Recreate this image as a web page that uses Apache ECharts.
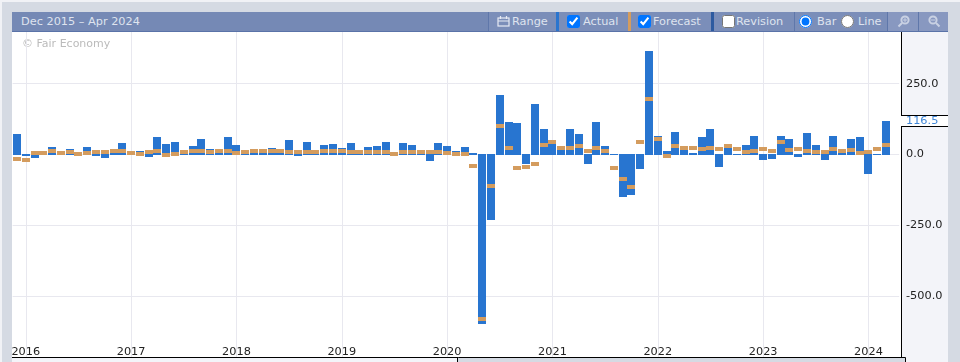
<!DOCTYPE html>
<html>
<head>
<meta charset="utf-8">
<title>Dec 2015 - Apr 2024</title>
<script src="https://cdn.jsdelivr.net/npm/echarts@6/dist/echarts.min.js"></script>
<style>
  html, body { margin: 0; padding: 0; width: 960px; height: 362px; overflow: hidden; background: #d5dae3; }
  body { position: relative; font-family: "DejaVu Sans", sans-serif; }
  .abs { position: absolute; }
  #edgeTop { left: 0; top: 0; width: 960px; height: 2px; background: #f1f2f6; }
  #edgeLeft { left: 0; top: 0; width: 2px; height: 362px; background: #f1f2f6; }
  #stage { left: 12px; top: 32px; width: 936px; height: 330px; background: #f3f4f9; }
  #plotBg { left: 12px; top: 32px; width: 889px; height: 325px; background: #fff; }
  #chart { left: 0; top: 0; width: 960px; height: 362px; }
  #stripLeft { left: 12px; top: 358px; width: 445px; height: 4px; background: #f3f4f9; border-right: 1px solid #000; }
  #stripMid { left: 458px; top: 358px; width: 447px; height: 4px; background: #d5dae3; }
  #stripRight { left: 906px; top: 358px; width: 42px; height: 4px; background: #f3f4f9; }
  #header { left: 12px; top: 12px; width: 936px; height: 19px; background: #7589b5; border-bottom: 1px solid #5a73a8; color: #dfe4ef; font-size: 11.3px; line-height: 19px; }
  .seg { position: absolute; top: 0; height: 19px; background: #7b8eb9; border-left: 1px solid #5f77aa; box-sizing: border-box; white-space: nowrap; }
  .seg input { position: absolute; margin: 0; top: 3px; width: 13px; height: 13px; accent-color: #0075ff; }
  .seg span { position: absolute; top: 0; }
  .strip { position: absolute; top: 0; width: 3px; height: 19px; }
  .seg svg { position: absolute; }
</style>
</head>
<body>
<div class="abs" id="edgeTop"></div>
<div class="abs" id="edgeLeft"></div>
<div class="abs" id="stage"></div>
<div class="abs" id="plotBg"></div>
<div class="abs" id="chart"></div>
<div class="abs" id="stripLeft"></div>
<div class="abs" id="stripMid"></div>
<div class="abs" id="stripRight"></div>
<div class="abs" id="header">
  <span class="abs" style="left:9px">Dec 2015 – Apr 2024</span>
  <div class="seg" style="left:476px;width:68px">
    <svg style="left:8px;top:3px" width="13" height="12" viewBox="0 0 13 12" fill="none" stroke="#e6eaf3" stroke-width="1.2"><rect x="1" y="3" width="11" height="8"/><path d="M1 6h11M3.5 1v3M9.5 1v3"/></svg>
    <span style="left:23px">Range</span>
  </div>
  <div class="strip" style="left:544px;background:#2a75cf"></div>
  <div class="seg" style="left:547px;width:69px;border-left:0">
    <input type="checkbox" checked style="left:8px"><span style="left:24px">Actual</span>
  </div>
  <div class="strip" style="left:616px;background:#d49c5e"></div>
  <div class="seg" style="left:619px;width:80px;border-left:0">
    <input type="checkbox" checked style="left:7px"><span style="left:22px">Forecast</span>
  </div>
  <div class="strip" style="left:699px;background:#2d5aa0"></div>
  <div class="seg" style="left:702px;width:80px;border-left:0">
    <input type="checkbox" style="left:8px"><span style="left:22px">Revision</span>
  </div>
  <div class="seg" style="left:782px;width:93px">
    <input type="radio" name="kind" checked style="left:4px"><span style="left:22px">Bar</span>
    <input type="radio" name="kind" style="left:46px"><span style="left:63px">Line</span>
  </div>
  <div class="seg" style="left:875px;width:31px;background:#8898c0">
    <svg style="left:9px;top:3px" width="13" height="13" viewBox="0 0 13 13" fill="none" stroke="#c9d1e3" stroke-width="2"><circle cx="8" cy="5" r="3.6"/><path d="M5 8l-3.5 3.5"/><path stroke-width="1" d="M6 5h4M8 3v4"/></svg>
  </div>
  <div class="seg" style="left:906px;width:30px;background:#8898c0">
    <svg style="left:9px;top:3px" width="13" height="13" viewBox="0 0 13 13" fill="none" stroke="#c9d1e3" stroke-width="2"><circle cx="5" cy="5" r="3.6"/><path d="M8 8l3.5 3.5"/><path stroke-width="1" d="M3 5h4"/></svg>
  </div>
</div>
<script>
const months = ['Jan', 'Feb', 'Mar', 'Apr', 'May', 'Jun', 'Jul', 'Aug', 'Sep', 'Oct', 'Nov', 'Dec']
const categories = ['Dec 2015']
for (let year = 2016; year <= 2024; year++) {
  for (const m of months) {
    if (year === 2024 && months.indexOf(m) > 3) break
    categories.push(m + ' ' + year)
  }
}

const actual = [
  72, -5, -12, 3, 26, 3, 19, 0, 26, -5, -12, 8,
  40, 3, 12, -9, 62, 37, 44, 2, 30, 55, 19, 7,
  62, 33, 3, 7, 7, 23, 7, 51, -5, 44, 3, 33,
  37, 23, 40, 3, 26, 30, 44, -2, 40, 33, 3, -23,
  40, 30, 12, 26, 5, -597, -231, 210, 114, 111, -33, 178,
  90, 37, 16, 90, 72, -33, 114, 30, -3, -150, -143, -51,
  365, 65, 12, 79, 16, 5, 62, 90, -44, 23, 2, 33,
  65, -19, -16, 65, 55, -9, 76, 33, -19, 65, 5, 55,
  62, -69, 2, 116.5, null
]
const forecast = [
  -16, -19, 5, 5, 12, 5, 9, 2, 5, 9, 9, 12,
  12, 5, 2, 9, 12, -2, 2, 9, 12, 12, 9, 12,
  12, 5, 9, 12, 12, 12, 12, 9, 9, 9, 9, 12,
  12, 12, 9, 9, 9, 9, 9, 2, 9, 9, 9, 9,
  9, 5, 2, 2, -40, -579, -110, 100, 23, -47, -44, -33,
  33, 44, 23, 23, 30, 12, 23, 12, -47, -86, -114, 44,
  195, 55, -5, 30, 23, 23, 19, 23, 19, 30, 19, 9,
  12, 19, 12, 44, 16, 19, 12, 9, 9, 19, 12, 16,
  5, 9, 19, 33, null
]
const yTicks = [-500, -250, 0, 250]
const latestValue = 116.5

const isYearStart = (index, value) => value.startsWith('Jan')

// bars and forecast blocks are pixel snapped, plain bar series blurs at this band width
const renderActual = (params, api) => {
  const value = api.value(1)
  if (value === null || isNaN(value)) return
  const end = api.coord([api.value(0), value])
  const zero = api.coord([api.value(0), 0])
  const base = value >= 0 ? Math.ceil(zero[1]) : Math.floor(zero[1])
  const tip = Math.round(end[1])
  return {
    type: 'rect',
    shape: { x: Math.round(end[0] - 4), y: Math.min(tip, base), width: 8, height: Math.abs(tip - base) },
    style: { fill: '#2875d0' },
  }
}
const renderForecast = (params, api) => {
  const value = api.value(1)
  if (value === null || isNaN(value)) return
  const point = api.coord([api.value(0), value])
  return {
    type: 'rect',
    shape: { x: Math.round(point[0] - 4), y: Math.round(point[1] - 2), width: 8, height: 4 },
    style: { fill: '#d49c5e' },
  }
}

const chart = echarts.init(document.getElementById('chart'))
const watermark = {
  type: 'text',
  left: 22,
  top: 39,
  style: { text: '© Fair Economy', fill: '#bbbbbb', font: '11px "DejaVu Sans"' },
}
chart.setOption({
  animation: false,
  grid: { left: 12.6, width: 886.6, top: 32, height: 325 },
  xAxis: {
    type: 'category',
    data: categories,
    axisLine: { show: false },
    axisTick: { show: false },
    axisLabel: {
      inside: true,
      interval: isYearStart,
      margin: -1,
      color: '#222',
      fontFamily: 'DejaVu Sans',
      fontSize: 11.3,
      formatter: value => value.slice(-4),
    },
    splitLine: {
      show: true,
      interval: isYearStart,
      alignWithLabel: true,
      lineStyle: { color: '#e8e8ef', width: 1 },
    },
  },
  yAxis: {
    type: 'value',
    position: 'right',
    offset: 1.8,
    min: -713,
    max: 431.7,
    axisLine: { show: true, lineStyle: { color: '#000', width: 1 } },
    axisTick: { show: false, customValues: yTicks },
    axisLabel: {
      customValues: yTicks,
      margin: 5,
      padding: [3, 0, 0, 0],
      color: '#222',
      fontFamily: 'DejaVu Sans',
      fontSize: 11.3,
      formatter: value => value.toFixed(1),
    },
    splitLine: { show: true, customValues: yTicks, lineStyle: { color: '#e8e8ef', width: 1 } },
  },
  series: [
    {
      name: 'Actual',
      type: 'custom',
      data: actual.map((value, index) => [index, value]),
      encode: { x: 0, y: 1 },
      renderItem: renderActual,
      z: 3,
    },
    {
      name: 'Forecast',
      type: 'custom',
      data: forecast.map((value, index) => [index, value]),
      encode: { x: 0, y: 1 },
      renderItem: renderForecast,
      z: 5,
    },
  ],
  graphic: [watermark],
})

// value tag sits on the axis, the box breaks the black line
const tagY = Math.round(chart.convertToPixel({ yAxisIndex: 0 }, latestValue))
chart.setOption({
  graphic: [
    watermark,
    {
      type: 'rect',
      shape: { x: 900, y: tagY - 5, width: 48, height: 11 },
      style: { fill: '#fff' },
      z: 10,
    },
    {
      type: 'polyline',
      shape: { points: [[901, tagY - 5.5], [948, tagY - 5.5]] },
      style: { stroke: '#000', lineWidth: 1 },
      z: 11,
    },
    {
      type: 'polyline',
      shape: { points: [[901, tagY + 5.5], [948, tagY + 5.5]] },
      style: { stroke: '#000', lineWidth: 1 },
      z: 11,
    },
    {
      type: 'text',
      left: 906,
      top: tagY - 5,
      z: 12,
      style: { text: latestValue.toFixed(1), fill: '#3f86d8', font: '11.3px "DejaVu Sans"' },
    },
    {
      type: 'polyline',
      shape: { points: [[12, 357.5], [905.5, 357.5], [905.5, 362]] },
      style: { stroke: '#000', lineWidth: 1, fill: 'none' },
      z: 11,
    },
  ],
})
</script>
</body>
</html>
